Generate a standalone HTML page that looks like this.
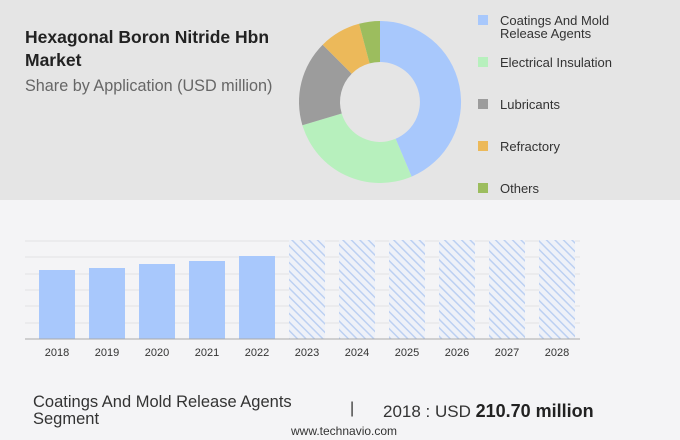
<!DOCTYPE html><html><head><style>
body{margin:0;width:680px;height:440px;background:#f4f4f6;font-family:"Liberation Sans",sans-serif;position:relative;overflow:hidden}
.top{position:absolute;left:0;top:0;width:680px;height:200px;background:#e5e5e5}
.t{position:absolute;color:#333;white-space:nowrap}
.lg{position:absolute;left:478px;width:10px;height:10px}
.lt{position:absolute;left:500px;font-size:13px;color:#333;line-height:13px}
</style></head><body>
<div class="top"></div>
<div class="t" style="left:25px;top:26px;font-size:17.5px;font-weight:bold;line-height:23px;color:#222">Hexagonal Boron Nitride Hbn<br>Market</div>
<div class="t" style="left:25px;top:77px;font-size:16.2px;color:#666">Share by Application (USD million)</div>
<svg style="position:absolute;left:0;top:0" width="680" height="440">
<g transform="translate(380,102)">
<path d="M0,-81 A81,81 0 0 1 31.6,74.6 L15.6,36.8 A40,40 0 0 0 0,-40Z" fill="#a8c8fc"/>
<path d="M31.6,74.6 A81,81 0 0 1 -77.6,23.2 L-38.3,11.5 A40,40 0 0 0 15.6,36.8Z" fill="#b7f0bd"/>
<path d="M-77.6,23.2 A81,81 0 0 1 -57.3,-57.3 L-28.3,-28.3 A40,40 0 0 0 -38.3,11.5Z" fill="#9c9c9c"/>
<path d="M-57.3,-57.3 A81,81 0 0 1 -20.9,-78.2 L-10.4,-38.6 A40,40 0 0 0 -28.3,-28.3Z" fill="#ecb95a"/>
<path d="M-20.9,-78.2 A81,81 0 0 1 0,-81 L0,-40 A40,40 0 0 0 -10.4,-38.6Z" fill="#9cbd5e"/>
</g>
<defs><pattern id="h" width="6" height="6" patternUnits="userSpaceOnUse" patternTransform="rotate(-45)"><rect width="6" height="6" fill="#eef1f8"/><rect width="1.5" height="6" fill="#bcd0f2"/></pattern></defs>
<g stroke="#e2e2e4" stroke-width="1">
<line x1="25" x2="580" y1="241" y2="241"/><line x1="25" x2="580" y1="257" y2="257"/><line x1="25" x2="580" y1="274" y2="274"/><line x1="25" x2="580" y1="290" y2="290"/><line x1="25" x2="580" y1="306" y2="306"/><line x1="25" x2="580" y1="323" y2="323"/>
</g>
<g fill="#a8c8fc">
<rect x="39" y="270" width="36" height="69"/><rect x="89" y="268" width="36" height="71"/><rect x="139" y="264" width="36" height="75"/><rect x="189" y="261" width="36" height="78"/><rect x="239" y="256" width="36" height="83"/>
</g>
<g fill="url(#h)">
<rect x="289" y="240" width="36" height="99"/><rect x="339" y="240" width="36" height="99"/><rect x="389" y="240" width="36" height="99"/><rect x="439" y="240" width="36" height="99"/><rect x="489" y="240" width="36" height="99"/><rect x="539" y="240" width="36" height="99"/>
</g>
<line x1="25" x2="580" y1="339" y2="339" stroke="#aaa"/>
<g font-size="11" fill="#333" text-anchor="middle" font-family="Liberation Sans">
<text x="57" y="356">2018</text><text x="107" y="356">2019</text><text x="157" y="356">2020</text><text x="207" y="356">2021</text><text x="257" y="356">2022</text><text x="307" y="356">2023</text><text x="357" y="356">2024</text><text x="407" y="356">2025</text><text x="457" y="356">2026</text><text x="507" y="356">2027</text><text x="557" y="356">2028</text>
</g>
</svg>
<div class="lg" style="top:15px;background:#a8c8fc"></div><div class="lt" style="top:14px">Coatings And Mold<br>Release Agents</div>
<div class="lg" style="top:57px;background:#b7f0bd"></div><div class="lt" style="top:56px">Electrical Insulation</div>
<div class="lg" style="top:99px;background:#9c9c9c"></div><div class="lt" style="top:98px">Lubricants</div>
<div class="lg" style="top:141px;background:#ecb95a"></div><div class="lt" style="top:140px">Refractory</div>
<div class="lg" style="top:183px;background:#9cbd5e"></div><div class="lt" style="top:182px">Others</div>
<div class="t" style="left:33px;top:394px;font-size:16.5px;line-height:17px">Coatings And Mold Release Agents<br>Segment</div>
<div class="t" style="left:350px;top:400px;font-size:16px">|</div>
<div class="t" style="left:383px;top:401px;font-size:17px">2018 : USD <b style="font-size:18px;color:#222">210.70 million</b></div>
<div class="t" style="left:291px;top:424px;font-size:12px">www.technavio.com</div>
</body></html>
